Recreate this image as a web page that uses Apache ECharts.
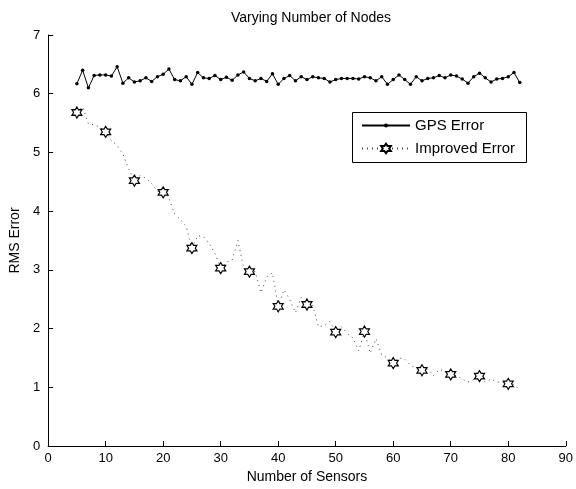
<!DOCTYPE html>
<html>
<head>
<meta charset="utf-8">
<script src="https://cdn.jsdelivr.net/npm/echarts@6/dist/echarts.min.js"></script>
<style>html,body{margin:0;padding:0;background:#fff}#chart{width:576px;height:489px}</style>
</head>
<body>
<div id="chart"></div>
<script>
// Number of sensors (x) for both series
var sensors = [];
for (var s = 5; s <= 82; s++) sensors.push(s);

var gpsError = [
  6.17, 6.40, 6.10, 6.31, 6.32, 6.32, 6.30, 6.46, 6.18, 6.27,
  6.20, 6.22, 6.27, 6.21, 6.29, 6.33, 6.42, 6.24, 6.22, 6.29,
  6.16, 6.36, 6.27, 6.26, 6.31, 6.24, 6.28, 6.23, 6.32, 6.37,
  6.26, 6.22, 6.26, 6.21, 6.34, 6.16, 6.26, 6.31, 6.22, 6.29,
  6.24, 6.29, 6.27, 6.26, 6.20, 6.24, 6.26, 6.26, 6.26, 6.25,
  6.29, 6.27, 6.22, 6.29, 6.16, 6.24, 6.32, 6.24, 6.16, 6.29,
  6.22, 6.26, 6.27, 6.31, 6.27, 6.32, 6.30, 6.25, 6.18, 6.29,
  6.35, 6.27, 6.20, 6.25, 6.26, 6.29, 6.36, 6.19
];

var improvedError = [
  5.68, 5.78, 5.49, 5.47, 5.43, 5.35, 5.20, 5.12, 4.97, 4.72,
  4.52, 4.61, 4.56, 4.47, 4.34, 4.32, 4.22, 3.95, 3.86, 3.74,
  3.37, 3.58, 3.57, 3.45, 3.28, 3.03, 3.13, 3.17, 3.50, 3.03,
  2.97, 2.97, 2.61, 2.88, 2.95, 2.38, 2.66, 2.50, 2.27, 2.53,
  2.41, 2.40, 2.03, 2.05, 2.12, 1.94, 2.03, 1.92, 1.84, 1.62,
  1.95, 1.58, 1.83, 1.55, 1.50, 1.41, 1.50, 1.48, 1.38, 1.32,
  1.29, 1.31, 1.20, 1.30, 1.28, 1.22, 1.20, 1.14, 1.09, 1.13,
  1.19, 1.09, 1.14, 1.09, 1.08, 1.06, 1.05, 0.95
];

// Markers of the improved series are drawn every 5 sensors
var markerEvery = 5;

var xTicks = [0, 10, 20, 30, 40, 50, 60, 70, 80, 90];
var yTicks = [0, 1, 2, 3, 4, 5, 6, 7];

var hexagram = 'path://M50 0 L64.43 25 L93.3 25 L78.87 50 L93.3 75 L64.43 75 L50 100 L35.57 75 L6.7 75 L21.13 50 L6.7 25 L35.57 25 Z';

var gpsData = sensors.map(function (x, i) { return [x, gpsError[i]]; });
var impData = sensors.map(function (x, i) {
  var item = { value: [x, improvedError[i]] };
  if (x % markerEvery !== 0) item.symbol = 'none';
  return item;
});

var font = 'Liberation Sans, Arial, Helvetica, sans-serif';
var legendFont = 15;
var chart = echarts.init(document.getElementById('chart'), null, { renderer: 'canvas' });
chart.setOption({
  animation: false,
  backgroundColor: '#fff',
  textStyle: { fontFamily: font, color: '#000' },
  title: {
    text: 'Varying Number of Nodes',
    left: 306, textAlign: 'center', top: 6,
    textStyle: { fontSize: 14, fontWeight: 'normal', color: '#000', fontFamily: font }
  },
  grid: { left: 46, right: 9, top: 35, bottom: 43, containLabel: false },
  graphic: [{
    type: 'rect', x: 352.5, y: 112.5, z: 3,
    shape: { x: 0, y: 0, width: 174, height: 50 },
    style: { fill: '#fff', stroke: '#000', lineWidth: 1 }
  }],
  legend: [{
    orient: 'vertical', left: 361, top: 118, padding: 0, z: 6,
    itemWidth: 48, itemHeight: 5,
    textStyle: { fontSize: legendFont, color: '#000', fontFamily: font },
    data: ['GPS Error']
  }, {
    orient: 'vertical', left: 361, top: 141, padding: 0, z: 6,
    itemWidth: 48, itemHeight: 12,
    textStyle: { fontSize: legendFont, color: '#000', fontFamily: font },
    data: ['Improved Error']
  }],
  xAxis: {
    type: 'value', min: xTicks[0], max: xTicks[xTicks.length - 1], interval: 10,
    name: 'Number of Sensors', nameLocation: 'middle', nameGap: 24,
    nameTextStyle: { fontSize: 14, color: '#000' },
    axisLine: { lineStyle: { color: '#000', width: 1 } },
    axisTick: { inside: true, length: 5, lineStyle: { color: '#000' } },
    axisLabel: { fontSize: 13, color: '#000', margin: 6 },
    splitLine: { show: false }
  },
  yAxis: {
    type: 'value', min: yTicks[0], max: yTicks[yTicks.length - 1], interval: 1,
    name: 'RMS Error', nameLocation: 'middle', nameGap: 25,
    nameTextStyle: { fontSize: 14, color: '#000' },
    axisLine: { show: true, lineStyle: { color: '#000', width: 1 } },
    axisTick: { show: true, inside: true, length: 5, lineStyle: { color: '#000' } },
    axisLabel: { fontSize: 13, color: '#000', margin: 8 },
    splitLine: { show: false }
  },
  series: [
    {
      name: 'GPS Error', type: 'line', data: gpsData,
      symbol: 'circle', symbolSize: 3.5, showSymbol: true,
      lineStyle: { color: '#000', width: 1 },
      itemStyle: { color: '#000' },
      z: 3
    },
    {
      name: 'Improved Error', type: 'line', data: impData,
      symbol: hexagram, symbolSize: [10, 11], showSymbol: true,
      lineStyle: { color: '#444', width: 1, type: [1, 4] },
      itemStyle: { color: '#fff', borderColor: '#000', borderWidth: 1.2 },
      z: 2
    }
  ]
});
</script>
</body>
</html>
